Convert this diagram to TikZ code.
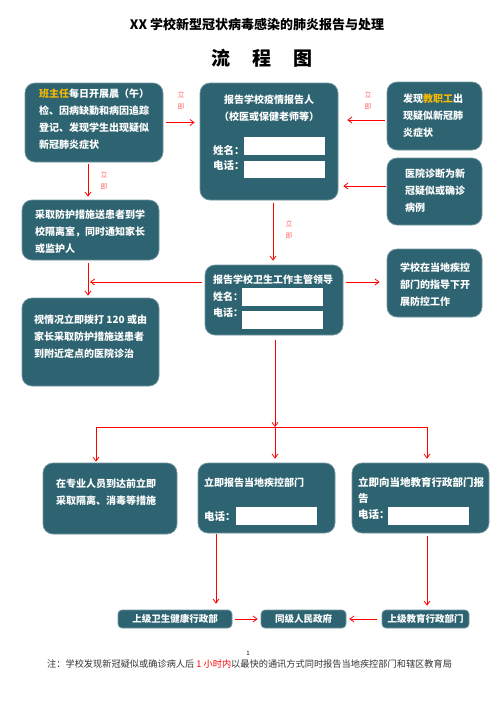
\documentclass[tikz,border=0pt]{standalone}
\usepackage{fontspec}
\setmainfont{Noto Sans CJK SC}
\usetikzlibrary{arrows.meta}
\definecolor{teal}{HTML}{2E6471}
\definecolor{rim}{HTML}{6F959E}
\definecolor{gold}{HTML}{F5B800}
\definecolor{lred}{HTML}{FF6A6A}
\definecolor{notegray}{HTML}{333333}
\tikzset{
  box/.style={draw=rim, line width=0.7pt, fill=teal, rounded corners=10pt, inner sep=0pt},
  sbox/.style={draw=rim, line width=0.7pt, fill=teal, rounded corners=4pt, inner sep=0pt, text=white, font=\bfseries\fontsize{9.5}{11}\selectfont},
  field/.style={fill=white, draw=none, inner sep=0pt},
  btxt/.style={text=white, font=\bfseries\fontsize{10}{17}\selectfont, inner sep=0pt, align=left, anchor=west},
  ltxt/.style={text=white, font=\bfseries\fontsize{10.5}{16}\selectfont, inner sep=0pt, anchor=west},
  ji/.style={text=lred, font=\fontsize{7}{12}\selectfont, inner sep=0pt, align=center},
  arr/.style={draw=red, line width=0.8pt, -{Straight Barb[length=4pt,width=6pt]}},
  ln/.style={draw=red, line width=0.8pt},
}
\begin{document}
\begin{tikzpicture}[x=1pt,y=-1pt]
\useasboundingbox (0,0) rectangle (496,702);
% titles
\node[font=\bfseries\fontsize{13}{15}\selectfont, inner sep=0pt] (title) at (257,25) {XX 学校新型冠状病毒感染的肺炎报告与处理};
\node[font=\bfseries\fontsize{19}{21}\selectfont, inner sep=0pt] (sub) at (262,58) {流\hspace{22pt}程\hspace{22pt}图};
% boxes
\node[box, minimum width=138pt, minimum height=79pt] (A) at (94,122.5) {};
\node[box, minimum width=138pt, minimum height=117pt] (B) at (269,141.5) {};
\node[box, minimum width=95pt, minimum height=68pt] (C) at (434.5,116) {};
\node[box, minimum width=95pt, minimum height=67pt] (D) at (434.5,191.5) {};
\node[box, minimum width=137pt, minimum height=60pt] (E) at (90.5,230) {};
\node[box, minimum width=137pt, minimum height=88pt] (F) at (90.5,342) {};
\node[box, minimum width=138pt, minimum height=70pt] (G) at (274,300) {};
\node[box, minimum width=95pt, minimum height=68pt] (H) at (434.5,283) {};
\node[box, minimum width=134pt, minimum height=71pt] (I) at (110,498.5) {};
\node[box, minimum width=137pt, minimum height=70pt] (J) at (266.5,498) {};
\node[box, minimum width=137pt, minimum height=70pt] (K) at (420.5,498) {};
\node[sbox, minimum width=114pt, minimum height=18pt] (L) at (175,619) {上级卫生健康行政部};
\node[sbox, minimum width=85pt, minimum height=18pt] (M) at (303.5,619) {同级人民政府};
\node[sbox, minimum width=87pt, minimum height=18pt] (N) at (425.5,619) {上级教育行政部门};
% white fields
\node[field, minimum width=81pt, minimum height=18pt] (B1) at (284.5,146) {};
\node[field, minimum width=81pt, minimum height=17pt] (B2) at (284.5,169.5) {};
\node[field, minimum width=81pt, minimum height=18pt] (G1) at (282.5,297) {};
\node[field, minimum width=81pt, minimum height=18pt] (G2) at (282.5,320) {};
\node[field, minimum width=81pt, minimum height=18pt] (J1) at (276.5,516) {};
\node[field, minimum width=81pt, minimum height=18pt] (K1) at (428.5,516) {};
% box texts
\node[btxt] (At) at (39,119.5) {{\color{gold}班主任}每日开展晨（午）\\检、因病缺勤和病因追踪\\登记、发现学生出现疑似\\新冠肺炎症状};
\node[btxt, align=center, anchor=center] (Bt) at (269,108.5) {报告学校疫情报告人\\（校医或保健老师等）};
\node[ltxt] (Bn) at (213,150) {姓名：};
\node[ltxt] (Bp) at (213,166) {电话：};
\node[btxt] (Ct) at (403,116) {发现{\color{gold}教职工}出\\现疑似新冠肺\\炎症状};
\node[btxt] (Dt) at (405,190.5) {医院诊断为新\\冠疑似或确诊\\病例};
\node[btxt] (Et) at (35,231.5) {采取防护措施送患者到学\\校隔离室，同时通知家长\\或监护人};
\node[btxt] (Ft) at (34,337) {视情况立即拨打 120 或由\\家长采取防护措施送患者\\到附近定点的医院诊治};
\node[btxt] (Gt) at (213,280) {报告学校卫生工作主管领导};
\node[btxt] (Gn) at (213,297) {姓名：};
\node[btxt] (Gp) at (213,313) {电话：};
\node[btxt] (Ht) at (400,285) {学校在当地疾控\\部门的指导下开\\展防控工作};
\node[btxt] (It) at (56,492.5) {在专业人员到达前立即\\采取隔离、消毒等措施};
\node[btxt] (Jt) at (204,483) {立即报告当地疾控部门};
\node[ltxt] (Jp) at (204,517) {电话：};
\node[btxt, font=\bfseries\fontsize{10.5}{16}\selectfont] (Kt) at (358,490) {立即向当地教育行政部门报\\告};
\node[ltxt] (Kp) at (358,515) {电话：};
% 立即 labels
\node[ji] (j1) at (181,101) {立\\即};
\node[ji] (j2) at (368,101) {立\\即};
\node[ji] (j3) at (104,180.5) {立\\即};
\node[ji] (j4) at (289,229.5) {立\\即};
% coordinates
\coordinate (ef) at (90,282);
\coordinate (jl) at (96,427);
\coordinate (jm) at (275,427);
\coordinate (jr) at (427,427);
% connectors
\draw[arr] ([xshift=3pt]A.east) -- ([xshift=-5pt]B.west |- A.east);
\draw[arr] ([xshift=-2pt,yshift=-4pt]C.west) -- ([xshift=9pt,yshift=21.5pt]B.east);
\draw[arr] ([xshift=-1pt,yshift=5.5pt]D.west) -- ([xshift=5pt,yshift=-44.5pt]B.east);
\draw[arr] ([xshift=-6pt,yshift=-2pt]A.south) -- ([xshift=-2.5pt,yshift=3pt]E.north);
\draw[arr] ([xshift=-2.5pt,yshift=-3pt]E.south) -- ([xshift=-2.5pt,yshift=2pt]F.north);
\draw[arr] ([xshift=-3pt,yshift=18pt]G.west) -- (ef);
\draw[arr] ([xshift=3pt,yshift=18pt]G.east) -- ([xshift=-7pt,yshift=1pt]H.west);
\draw[arr] ([xshift=4pt,yshift=-3pt]B.south) -- ([xshift=-1pt,yshift=4pt]G.north);
\draw[ln] (jl) -- (jr);
\draw[arr] ([xshift=1pt,yshift=-5pt]G.south) -- (jm);
\draw[arr] (jl) -- ([xshift=-14pt,yshift=1pt]I.north);
\draw[arr] (jm) -- ([xshift=8.5pt,yshift=4pt]J.north);
\draw[arr] (jr) -- ([xshift=6.5pt,yshift=4pt]K.north);
\draw[arr] ([xshift=-50.5pt,yshift=-1pt]J.south) -- ([xshift=41pt,yshift=6pt]L.north);
\draw[arr] ([xshift=6.5pt,yshift=-3pt]K.south) -- ([xshift=1.5pt,yshift=4pt]N.north);
\draw[arr] ([xshift=3pt]L.east) -- ([xshift=-3pt]M.west);
\draw[arr] ([xshift=-5pt]N.west) -- ([xshift=3pt]M.east);
% footer
\node[font=\fontsize{6}{7}\selectfont, inner sep=0pt] (pg) at (248,653) {1};
\node[font=\fontsize{9.2}{10}\selectfont, text=notegray, inner sep=0pt, anchor=west] (note) at (47,664) {注：学校发现新冠疑似或确诊病人后 {\color{red}1 小时内}以最快的通讯方式同时报告当地疾控部门和辖区教育局};
\end{tikzpicture}
\end{document}
